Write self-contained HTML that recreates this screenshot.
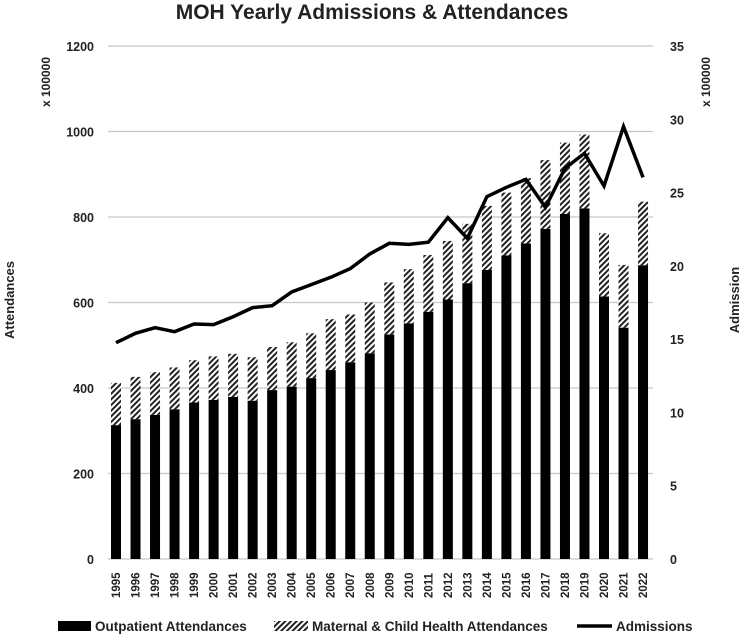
<!DOCTYPE html>
<html><head><meta charset="utf-8"><style>
body{margin:0;background:#fff;}
svg text{font-family:"Liberation Sans",sans-serif;font-weight:bold;fill:#222;}
</style></head><body>
<svg width="744" height="635" viewBox="0 0 744 635">
<defs>
<pattern id="hatch" patternUnits="userSpaceOnUse" width="4" height="4" patternTransform="rotate(45)">
<rect width="4" height="4" fill="#fff"/><rect width="2" height="4" fill="#222"/>
</pattern>
</defs>
<text x="372" y="19" text-anchor="middle" font-size="21">MOH Yearly Admissions &amp; Attendances</text>
<g id="grid"></g>
<g id="bars"></g>
<g id="line"></g>
<g id="labels"></g>
<text transform="translate(50,82) rotate(-90)" text-anchor="middle" font-size="12">x 100000</text>
<text transform="translate(710,82) rotate(-90)" text-anchor="middle" font-size="12">x 100000</text>
<text transform="translate(14,300) rotate(-90)" text-anchor="middle" font-size="13">Attendances</text>
<text transform="translate(739,300) rotate(-90)" text-anchor="middle" font-size="13">Admission</text>
<g>
<rect x="58" y="621" width="33" height="10" fill="#000"/>
<text x="95" y="631" font-size="13.5">Outpatient Attendances</text>
<rect x="274" y="621" width="34" height="10" fill="url(#hatch)"/>
<text x="312" y="631" font-size="13.5">Maternal &amp; Child Health Attendances</text>
<line x1="577" y1="626" x2="612" y2="626" stroke="#000" stroke-width="3.5"/>
<text x="616" y="631" font-size="13.5">Admissions</text>
</g>
</svg>
<script>
const years=[1995,1996,1997,1998,1999,2000,2001,2002,2003,2004,2005,2006,2007,2008,2009,2010,2011,2012,2013,2014,2015,2016,2017,2018,2019,2020,2021,2022];
const outpatient=[313,327,337,350,366,372,379,370,395,403,423,442,460,481,525,551,578,607,645,676,710,738,772,807,820,614,541,687];
const totals=[412,426,437,448,465,474,480,472,496,507,528,561,572,600,647,678,711,744,784,826,857,891,933,974,993,762,688,836];
const admissions=[14.76,15.4,15.78,15.51,16.03,15.99,16.53,17.15,17.28,18.22,18.72,19.22,19.81,20.81,21.54,21.47,21.61,23.29,21.88,24.72,25.36,25.9,23.99,26.65,27.68,25.45,29.5,26.04];
const leftTicks=[0,200,400,600,800,1000,1200];
const rightTicks=[0,5,10,15,20,25,30,35];
const NS="http://www.w3.org/2000/svg";
const X0=116,DX=19.52,Y0=559,YTOP=46,LMAX=1200,RMAX=35,BW=10;
const x=i=>X0+i*DX;
const yL=v=>Y0-v*(Y0-YTOP)/LMAX;
const yR=v=>Y0-v*(Y0-YTOP)/RMAX;
function mk(tag,attrs,parent){const e=document.createElementNS(NS,tag);for(const k in attrs)e.setAttribute(k,attrs[k]);document.getElementById(parent).appendChild(e);return e;}
leftTicks.forEach(t=>{
 const g=mk('line',{x1:108,x2:653,y1:yL(t),y2:yL(t),stroke:'#c8c8c8','stroke-width':1.3},'grid');
 
 
 const l=mk('text',{x:94,y:yL(t)+5,'text-anchor':'end','font-size':12.5},'labels');
 l.textContent=t;
 
 
});
rightTicks.forEach(t=>{
 const l=mk('text',{x:670,y:yR(t)+5,'font-size':12.5},'labels');
 l.textContent=t;
 
 
});
years.forEach((yr,i)=>{
 const cx=x(i);
 const h=mk('rect',{x:cx-BW/2,y:yL(totals[i]),width:BW,height:yL(outpatient[i])-yL(totals[i]),fill:'url(#hatch)'},'bars');
 
 
 const b=mk('rect',{x:cx-BW/2,y:yL(outpatient[i]),width:BW,height:Y0-yL(outpatient[i]),fill:'#000'},'bars');
 
 
 const t=mk('text',{transform:`translate(${cx+4},598) rotate(-90)`,'font-size':11.5},'labels');
 t.textContent=yr;
 
 
});
const p=mk('polyline',{points:admissions.map((a,i)=>x(i)+','+yR(a)).join(' '),fill:'none',stroke:'#000','stroke-width':3.5,'stroke-linejoin':'miter'},'line');


</script>
</body></html>
